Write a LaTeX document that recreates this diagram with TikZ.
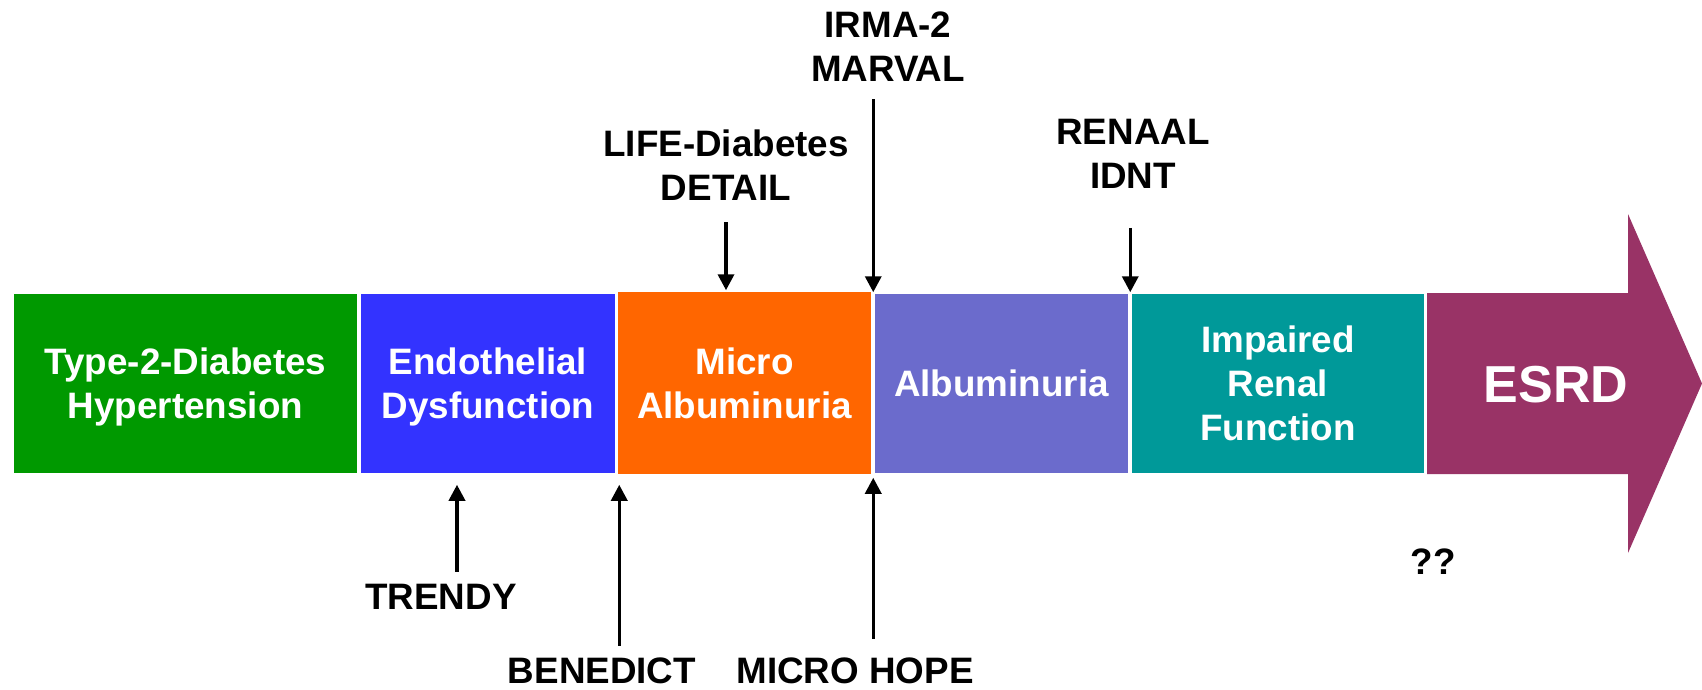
\documentclass[tikz,border=0pt]{standalone}
\usepackage{fontspec}
\setmainfont{Liberation Sans}
\usetikzlibrary{arrows.meta}

\definecolor{stagegreen}{HTML}{009900}
\definecolor{stageblue}{HTML}{3333FF}
\definecolor{stageorange}{HTML}{FF6600}
\definecolor{stagelilac}{HTML}{6B6BCC}
\definecolor{stageteal}{HTML}{009999}
\definecolor{stagemaroon}{HTML}{993366}

\tikzset{
  stage/.style={draw=white, line width=1.5pt, minimum height=181pt,
    inner sep=0pt, text=white, align=center, text depth=0pt,
    font=\bfseries\fontsize{36.8}{44}\selectfont},
  study/.style={inner sep=0pt, align=center, text depth=0pt,
    font=\bfseries\fontsize{36.8}{44}\selectfont},
  pin/.style={line width=3.5pt, -{Triangle[width=16pt,length=16pt]}},
}

\begin{document}
\begin{tikzpicture}[x=1pt,y=-1pt]
  \useasboundingbox (0,0) rectangle (1702,690);

  % Stufen
  \node[stage, fill=stagegreen, minimum width=345pt] (diab) at (185.5,383.5)
    {Type-2-Diabetes\\Hypertension};
  \node[stage, fill=stageblue, minimum width=256pt] (endo) at (488,383.5)
    {Endothelial\\Dysfunction};
  \node[stage, fill=stageorange, minimum width=255pt, minimum height=184pt]
    (micro) at (744.5,383) {Micro\\Albuminuria};
  \node[stage, fill=stagelilac, minimum width=255pt] (albu) at (1001.5,383.5)
    {Albuminuria};
  \node[stage, fill=stageteal, minimum width=294pt] (renal) at (1278,383.5)
    {Impaired\\Renal\\Function};

  % ESRD-Pfeil
  \fill[stagemaroon]
    (1427,293) --
    (1628,293) --
    (1628,214) --
    (1702,383.5) --
    (1628,553) --
    (1628,474) --
    (1427,474) --
    cycle;
  \node[text=white, inner sep=0pt, text depth=0pt,
    font=\bfseries\fontsize{52}{60}\selectfont] (esrd) at (1556,384) {ESRD};

  % Studien oben
  \node[study] (irma) at (888,47) {IRMA-2\\MARVAL};
  \node[study] (life) at (726,165.5) {LIFE-Diabetes\\DETAIL};
  \node[study] (renaal) at (1133,154) {RENAAL\\IDNT};

  \draw[pin, shorten <=17pt] (albu.north west |- irma.south) -- (albu.north west);
  \draw[pin, shorten <=21pt] (life.south) -- (life.south |- micro.north);
  \draw[pin, shorten <=39pt] (renal.north west |- renaal.south) -- (renal.north west);

  % Studien unten
  \node[study] (trendy) at (441,596.5) {TRENDY};
  \node[study] (benedict) at (602,671) {BENEDICT};
  \node[study] (hope) at (855,671) {MICRO HOPE};
  \node[study] (unknown) at (1433,562) {??};

  \draw[pin, shorten <=12pt, shorten >=10pt]
    ([xshift=16pt]trendy.north) -- ([xshift=16pt]trendy.north |- endo.south);
  \draw[pin, shorten <=12pt, shorten >=9pt]
    ([xshift=3pt]micro.south west |- benedict.north) -- ([xshift=3pt]micro.south west);
  \draw[pin, shorten <=19pt, shorten >=3pt]
    (albu.south west |- hope.north) -- (albu.south west);

\end{tikzpicture}
\end{document}
